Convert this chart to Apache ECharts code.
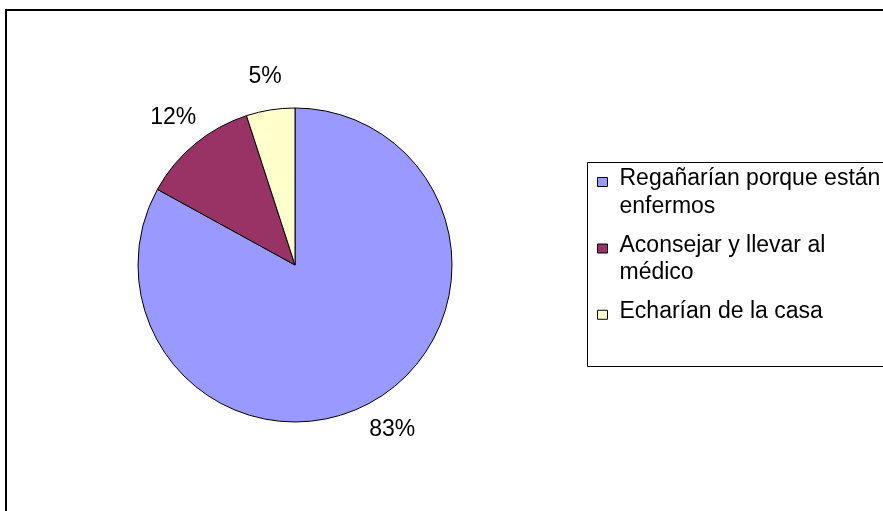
<!DOCTYPE html>
<html>
<head>
<meta charset="utf-8">
<script src="https://cdn.jsdelivr.net/npm/echarts@6/dist/echarts.min.js"></script>
<style>html,body{margin:0;padding:0;background:#fff}#c{width:883px;height:511px}</style>
</head>
<body>
<div id="c"></div>
<script>
var categories = ['Regañarían porque están enfermos', 'Aconsejar y llevar al médico', 'Echarían de la casa'];
var legendLines = [['Regañarían porque están', 'enfermos'], ['Aconsejar y llevar al', 'médico'], ['Echarían de la casa']];
var values = [83, 12, 5];
var colors = ['#9999FF', '#993366', '#FFFFCC'];

var FONT = '"Liberation Sans", Arial, sans-serif';
var chart = echarts.init(document.getElementById('c'), null, {renderer: 'canvas'});
var pieData = categories.map(function (n, i) {
  return {name: n, value: values[i], itemStyle: {color: colors[i]}};
});

function legendText(name) {
  var lines = legendLines[categories.indexOf(name)];
  var body = lines.map(function (l) { return '{a|' + l + '}'; }).join('\n');
  if (lines.length > 1) return '{p| }\n' + body;
  return '{q| }\n' + body + '\n{r| }';
}

var option = {
  animation: false,
  backgroundColor: '#fff',
  graphic: [
    {type: 'rect', shape: {x: 6, y: 10, width: 1000, height: 1000}, style: {fill: 'none', stroke: '#000', lineWidth: 2}, silent: true, z: -10},
    {type: 'rect', shape: {x: 587.5, y: 162.5, width: 400, height: 204}, style: {fill: '#fff', stroke: '#000', lineWidth: 1}, silent: true, z: -5}
  ],
  legend: {
    orient: 'vertical',
    left: 597,
    top: 154,
    itemWidth: 10,
    itemHeight: 9,
    itemGap: 2.5,
    icon: 'rect',
    padding: 0,
    itemStyle: {borderColor: '#000', borderWidth: 1},
    formatter: legendText,
    textStyle: {
      fontFamily: FONT, fontSize: 23, color: '#000',
      rich: {
        a: {fontFamily: FONT, fontSize: 23, lineHeight: 27.5, color: '#000', padding: [0, 0, 0, 7]},
        p: {fontSize: 1, lineHeight: 21.5},
        q: {fontSize: 1, lineHeight: 21},
        r: {fontSize: 1, lineHeight: 27}
      }
    },
    data: categories
  },
  series: [
    {
      type: 'pie',
      center: [295, 265],
      radius: 157,
      startAngle: 90,
      clockwise: true,
      silent: true,
      data: pieData,
      itemStyle: {borderColor: '#000', borderWidth: 1},
      label: {show: false},
      labelLine: {show: false},
      emphasis: {disabled: true}
    },
    {
      type: 'pie',
      center: [295, 265],
      radius: [176, 200],
      startAngle: 90,
      clockwise: true,
      silent: true,
      data: pieData.map(function (d) { return {name: d.name, value: d.value, itemStyle: {color: 'rgba(0,0,0,0)', borderWidth: 0}}; }),
      label: {show: true, position: 'inside', rotate: 0, formatter: '{c}%', fontFamily: FONT, fontSize: 23, color: '#000'},
      labelLine: {show: false},
      emphasis: {disabled: true}
    }
  ]
};
chart.setOption(option);
</script>
</body>
</html>
